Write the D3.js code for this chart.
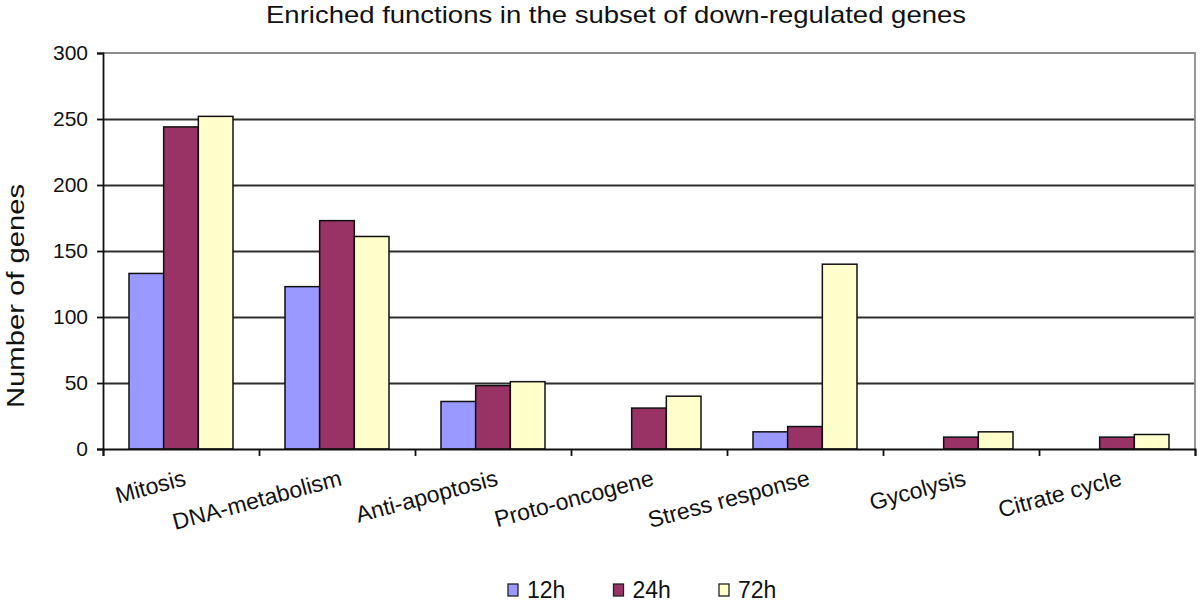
<!DOCTYPE html>
<html>
<head>
<meta charset="utf-8">
<script src="https://cdn.jsdelivr.net/npm/d3@7/dist/d3.min.js"></script>
<style>
  body { margin: 0; background: #fff; }
  svg { display: block; font-family: "Liberation Sans", Arial, sans-serif; }
</style>
</head>
<body>
<div id="chart-container"></div>
<script>
// categories and series
var categories = ["Mitosis", "DNA-metabolism", "Anti-apoptosis", "Proto-oncogene",
                  "Stress response", "Gycolysis", "Citrate cycle"];
var seriesNames = ["12h", "24h", "72h"];
var values12h = [133, 123, 36, 0, 13, 0, 0];
var values24h = [244, 173, 48, 31, 17, 9, 9];
var values72h = [252, 161, 51, 40, 140, 13, 11];
var yTicks = [0, 50, 100, 150, 200, 250, 300];
var colors = ["#9999ff", "#993366", "#ffffcc"];

var W = 1200, H = 602;
var margin = {top: 53, right: 5, bottom: 153, left: 103},
    width = W - margin.left - margin.right,
    height = H - margin.top - margin.bottom;

var table = categories.map(function(c, i) {
  return {cat: c, vals: [values12h[i], values24h[i], values72h[i]]};
});

var svg = d3.select("#chart-container")
    .append("svg")
    .attr("width", W)
    .attr("height", H);

var g = svg.append("g")
    .attr("transform", "translate(" + margin.left + "," + margin.top + ")");

var x0 = d3.scaleBand()
    .domain(categories)
    .range([0, width])
    .paddingInner(1 / 3)
    .paddingOuter(1 / 6);
var x1 = d3.scaleBand()
    .domain(seriesNames)
    .range([0, x0.bandwidth()]);
var y = d3.scaleLinear()
    .domain([0, 300])
    .range([height, 0]);
// boundaries between categories, for the tick marks
var xb = d3.scaleLinear().domain([0, categories.length]).range([0, width]);

// gridlines
g.append("g")
    .attr("class", "grid")
    .call(d3.axisLeft(y).tickValues(yTicks.slice(1, -1)).tickSize(-width).tickFormat(""))
    .call(function(s) {
      s.select(".domain").remove();
      s.selectAll("line").attr("stroke", "#2e2e2e").attr("stroke-width", 1.8);
    });

// plot-area border, top and right
g.append("path")
    .attr("d", "M0," + y(300) + "H" + width + "V" + height)
    .attr("fill", "none")
    .attr("stroke", "#8c8c8c")
    .attr("stroke-width", 1.8);

// bars
var groups = g.selectAll(".cat")
    .data(table)
  .enter().append("g")
    .attr("class", "cat")
    .attr("transform", function(d) { return "translate(" + x0(d.cat) + ",0)"; });

groups.selectAll("rect")
    .data(function(d) {
      return d.vals.map(function(v, j) { return {key: seriesNames[j], value: v, j: j}; })
                   .filter(function(e) { return e.value > 0; });
    })
  .enter().append("rect")
    .attr("x", function(d) { return x1(d.key); })
    .attr("y", function(d) { return y(d.value); })
    .attr("width", x1.bandwidth())
    .attr("height", function(d) { return height - y(d.value); })
    .attr("fill", function(d) { return colors[d.j]; })
    .attr("stroke", "#111")
    .attr("stroke-width", 1.5);

// y axis
g.append("g")
    .call(d3.axisLeft(y).tickValues(yTicks).tickSize(6).tickPadding(9))
    .call(function(s) {
      s.select(".domain").attr("stroke", "#111").attr("stroke-width", 1.8);
      s.selectAll("line").attr("stroke", "#111").attr("stroke-width", 1.8);
      s.selectAll("text").attr("font-size", 21).attr("fill", "#111")
        .attr("font-family", "'Liberation Sans', Arial, sans-serif");
    });

// x axis
g.append("g")
    .attr("transform", "translate(0," + height + ")")
    .call(d3.axisBottom(xb).ticks(categories.length).tickSize(7).tickFormat(""))
    .call(function(s) {
      s.select(".domain").attr("stroke", "#111").attr("stroke-width", 1.8);
      s.selectAll("line").attr("stroke", "#111").attr("stroke-width", 1.8);
    });

// category labels, tilted
g.selectAll(".xlabel")
    .data(categories)
  .enter().append("text")
    .attr("class", "xlabel")
    .attr("transform", function(d) {
      return "translate(" + (x0(d) + x0.bandwidth() / 2 + 6) + "," + (height + 36) + ") rotate(-15)";
    })
    .attr("text-anchor", "end")
    .attr("font-size", 23)
    .attr("fill", "#111")
    .text(function(d) { return d; });

// y axis title
svg.append("text")
    .attr("transform", "translate(24,296) rotate(-90)")
    .attr("text-anchor", "middle")
    .attr("font-size", 23)
    .attr("fill", "#111")
    .attr("textLength", 224)
    .attr("lengthAdjust", "spacingAndGlyphs")
    .text("Number of genes");

// title
svg.append("text")
    .attr("x", 266)
    .attr("y", 23)
    .attr("font-size", 24)
    .attr("fill", "#111")
    .attr("textLength", 700)
    .attr("lengthAdjust", "spacingAndGlyphs")
    .text("Enriched functions in the subset of down-regulated  genes");

// legend
var legend = svg.append("g")
    .attr("transform", "translate(508,584)");
var item = legend.selectAll(".item")
    .data(seriesNames)
  .enter().append("g")
    .attr("class", "item")
    .attr("transform", function(d, i) { return "translate(" + (i * 105.5) + ",0)"; });
item.append("rect")
    .attr("width", 10)
    .attr("height", 12)
    .attr("fill", function(d, i) { return colors[i]; })
    .attr("stroke", "#222")
    .attr("stroke-width", 1.3);
item.append("text")
    .attr("x", 19)
    .attr("y", 14)
    .attr("font-size", 23)
    .attr("fill", "#111")
    .text(function(d) { return d; });
</script>
</body>
</html>
